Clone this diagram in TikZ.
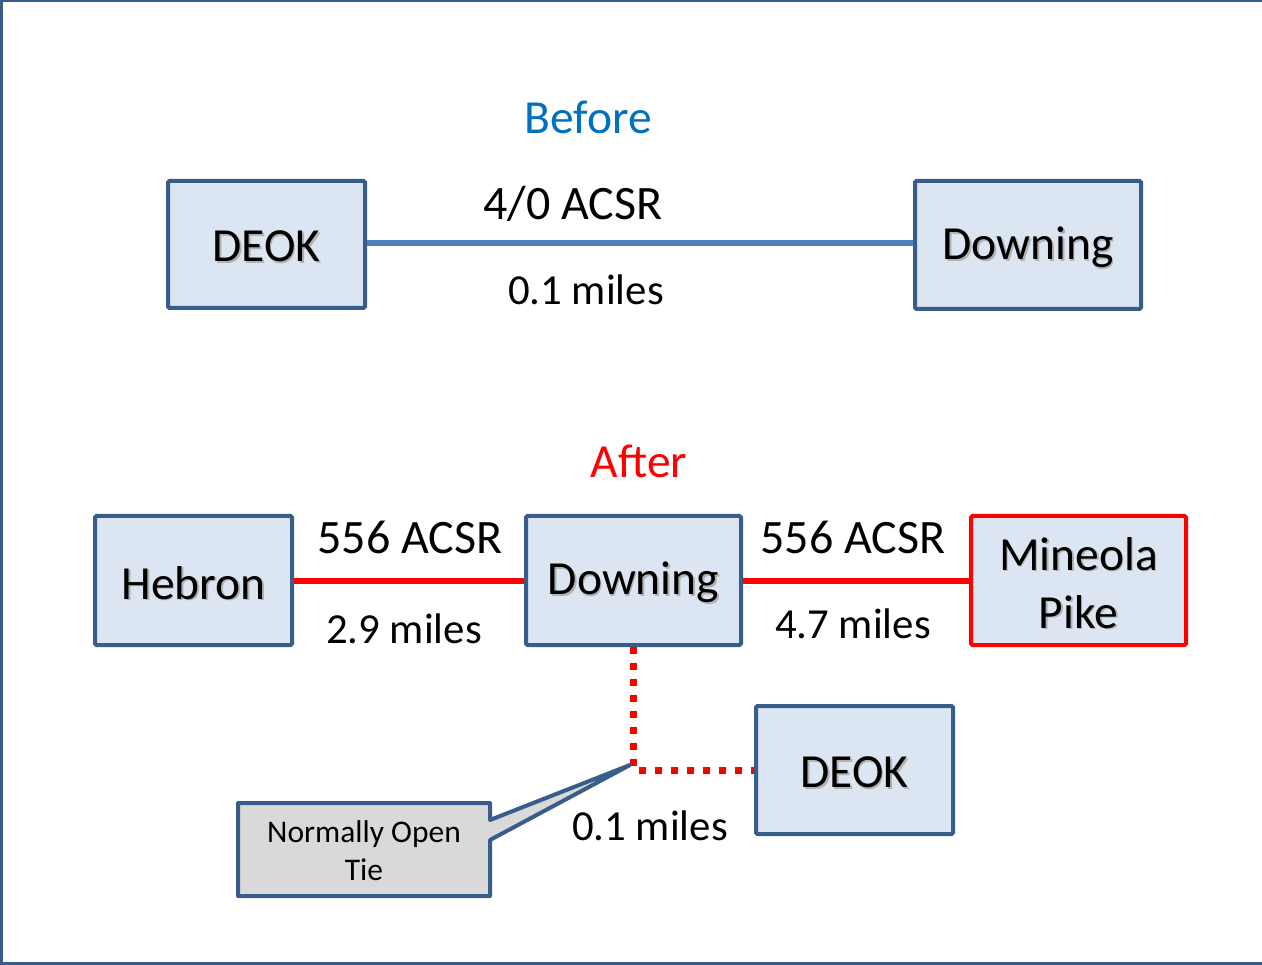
\documentclass[tikz,border=0pt]{standalone}
\usepackage{fontspec}
\setmainfont{Carlito}
\definecolor{boxblue}{RGB}{56,93,138}
\definecolor{boxfill}{RGB}{220,230,242}
\definecolor{lineblue}{RGB}{79,129,189}
\definecolor{titleblue}{RGB}{0,112,192}
\definecolor{pured}{RGB}{255,0,0}
\definecolor{callgray}{RGB}{217,217,217}
\newcommand\shtext[1]{\raisebox{-3pt}[\height][\depth]{\makebox[0pt][l]{\kern1.6pt\raisebox{-1.6pt}{\color{black!30}#1}}#1}}
\begin{document}
\begin{tikzpicture}[x=1pt,y=-1pt,
  station/.style={draw=boxblue,line width=4pt,fill=boxfill,rounded corners=1.5pt,
    inner sep=0pt,align=center,font=\fontsize{47.5}{58}\selectfont},
  lbl/.style={inner sep=0pt,font=\fontsize{48}{56}\selectfont},
  mlbl/.style={inner sep=0pt,font=\fontsize{42.8}{50}\selectfont},
  title/.style={inner sep=0pt,font=\fontsize{47.5}{55}\selectfont},
  bluecon/.style={draw=lineblue,line width=6pt},
  redcon/.style={draw=pured,line width=6pt},
  dotcon/.style={draw=pured,line width=7pt,dash pattern=on 7pt off 9pt},
  frame/.style={draw=boxblue,line width=3pt}]
\useasboundingbox (0,0) rectangle (1262,965);
\draw[frame] (1.5,0) -- (1.5,965);
\draw[frame] (0,1) -- (1262,1);
\draw[frame] (0,963.5) -- (1262,963.5);

% Before
\node[title,text=titleblue] (before) at (588,117) {Before};
\node[station,minimum width=197pt,minimum height=127pt] (deok1) at (266.5,244.5) {\shtext{DEOK}};
\node[station,minimum width=226pt,minimum height=128pt] (down1) at (1028,245) {\shtext{Downing}};
\draw[bluecon] (deok1.east |- 0,243) -- (down1.west |- 0,243);
\node[lbl] (acsr1) at (573,204) {4/0 ACSR};
\node[mlbl] (mi1) at (586,290) {0.1 miles};

% After
\node[title,text=pured] (after) at (639,461) {After};
\node[station,minimum width=197pt,minimum height=129pt] (hebron) at (193.5,580.5) {\shtext{Hebron}};
\node[station,minimum width=215pt,minimum height=129pt] (down2) at (633.5,580.5) {\shtext{Downing}};
\node[station,draw=pured,minimum width=215pt,minimum height=129pt] (mineola) at (1078.5,580.5) {\shtext{Mineola}\\\shtext{Pike}};
\node[station,minimum width=197pt,minimum height=128pt] (deok2) at (854.5,770) {\shtext{DEOK}};
\draw[redcon] (hebron) -- (down2);
\draw[redcon] (down2) -- (mineola);
\draw[dotcon] (down2.south) |- (deok2.west);
\node[lbl] (acsr2) at (410,537) {556 ACSR};
\node[mlbl] (mi2) at (404,629) {2.9 miles};
\node[lbl] (acsr3) at (853,537) {556 ACSR};
\node[mlbl] (mi3) at (853,624) {4.7 miles};
\node[mlbl] (mi4) at (650,826) {0.1 miles};

% callout
\coordinate (tip) at (630,765);
\draw[draw=boxblue,line width=4pt,fill=callgray,line join=round]
  (238,803) -- (490,803) -- (490,820) -- (tip) -- (490,840) -- (490,896) -- (238,896) -- cycle;
\node[inner sep=0pt,align=center,font=\fontsize{31.5}{38}\selectfont] (tie) at (364,851) {Normally Open\\Tie};
\end{tikzpicture}
\end{document}
